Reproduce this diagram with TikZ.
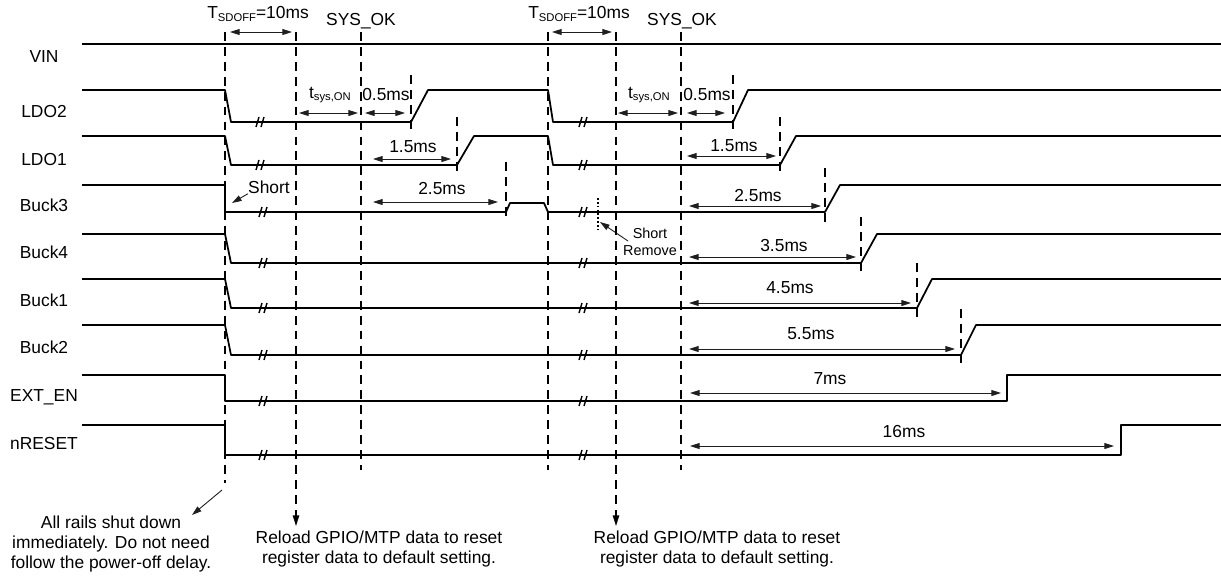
\documentclass[tikz,border=0pt]{standalone}
\usepackage{fontspec}
\setmainfont{Liberation Sans}
\usetikzlibrary{arrows.meta}
\definecolor{tdline}{RGB}{0,0,0}
\definecolor{tddim}{RGB}{30,30,30}
\newcommand{\tdsub}[1]{\raisebox{-0.3ex}{\fontsize{6.4}{7}\selectfont #1}}

\begin{document}
\begin{tikzpicture}[x=0.02cm, y=-0.02cm,
  sig/.style={tdline, line width=1pt, line join=round},
  guide/.style={tdline, line width=0.9pt, dash pattern=on 5pt off 3.5pt},
  dotguide/.style={tdline, line width=0.6pt, dash pattern=on 1pt off 1.2pt},
  dimarrow/.style={tddim, line width=0.5pt, {Triangle[length=5.5pt,width=3.4pt]}-{Triangle[length=5.5pt,width=3.4pt]}},
  notearrow/.style={tddim, line width=0.5pt, -{Triangle[length=5.5pt,width=3.4pt]}},
  lbl/.style={font=\fontsize{9.9}{11.3}\selectfont, inner sep=0pt},
  smalllbl/.style={font=\fontsize{8.2}{9.8}\selectfont, inner sep=0pt},
  brk/.pic={\draw[tdline, line width=0.8pt] (-4,5) -- (-1,-5) (1,5) -- (4,-5);}]
\useasboundingbox (0,0) rectangle (1221,576);

% signal names
\node[lbl] (vin)    at (44,57)  {VIN};
\node[lbl] (ldo2)   at (44,112) {LDO2};
\node[lbl] (ldo1)   at (44,160) {LDO1};
\node[lbl] (buck3)  at (44,205) {Buck3};
\node[lbl] (buck4)  at (44,252) {Buck4};
\node[lbl] (buck1)  at (44,300) {Buck1};
\node[lbl] (buck2)  at (44,347) {Buck2};
\node[lbl] (exten)  at (44,397) {EXT\_EN};
\node[lbl] (nreset) at (44,444) {nRESET};

% time guides
\coordinate (gA) at (225,32);
\coordinate (gB) at (296,32);
\coordinate (gC) at (361,32);
\coordinate (gD) at (548,32);
\coordinate (gE) at (616,32);
\coordinate (gF) at (681,32);
\draw[guide] (gA) -- (225,483);
\draw[guide] (gC) -- (361,470);
\draw[guide] (gD) -- (548,470);
\draw[guide] (gF) -- (681,470);

% waveforms
\draw[sig] (82,44) -- (1221,44);
\draw[sig] (82,90) -- (225,90) -- (231,122) -- (411,122) -- (428,90) -- (548,90)
  -- (553,122) -- (733,122) -- (748,90) -- (1221,90);
\draw[sig] (82,136) -- (225,136) -- (231,165) -- (457,165) -- (474,136) -- (548,136)
  -- (553,165) -- (780,165) -- (796,136) -- (1221,136);
\draw[sig] (82,185) -- (225,185) -- (225,212) -- (506,212) -- (510,203) -- (544,203)
  -- (548,212) -- (825,212) -- (840,185) -- (1221,185);
\draw[sig] (82,234) -- (225,234) -- (231,263) -- (861,263) -- (877,234) -- (1221,234);
\draw[sig] (82,279) -- (225,279) -- (231,308) -- (917,308) -- (932,279) -- (1221,279);
\draw[sig] (82,325) -- (225,325) -- (231,355) -- (961,355) -- (976,325) -- (1221,325);
\draw[sig] (82,375) -- (225,375) -- (225,401) -- (1007,401) -- (1007,375) -- (1221,375);
\draw[sig] (82,425) -- (225,425) -- (225,455) -- (1121,455) -- (1121,425) -- (1221,425);

% break marks
\pic at (260,122) {brk};  \pic at (583,122) {brk};
\pic at (260,165) {brk};  \pic at (583,165) {brk};
\pic at (263,212) {brk};  \pic at (583,212) {brk};
\pic at (263,263) {brk};  \pic at (583,263) {brk};
\pic at (263,308) {brk};  \pic at (583,308) {brk};
\pic at (263,355) {brk};  \pic at (583,355) {brk};
\pic at (263,401) {brk};  \pic at (583,401) {brk};
\pic at (263,455) {brk};  \pic at (583,455) {brk};

% rise markers
\draw[guide] (411,75) -- (411,130);
\draw[guide] (733,75) -- (733,130);
\draw[guide] (457,117) -- (457,173);
\draw[guide] (780,117) -- (780,173);
\draw[guide] (506,162) -- (506,216);
\draw[guide] (825,168) -- (825,223);
\draw[guide] (861,217) -- (861,272);
\draw[guide] (917,263) -- (917,317);
\draw[guide] (961,309) -- (961,363);

% top labels
\node[lbl] (tsd1) at (258,14) {T\tdsub{SDOFF}=10ms};
\node[lbl] (tsd2) at (579,14) {T\tdsub{SDOFF}=10ms};
\node[lbl] (ok1)  at (361,21) {SYS\_OK};
\node[lbl] (ok2)  at (682,21) {SYS\_OK};
\draw[dimarrow] (230,32) -- (292,32);
\draw[dimarrow] (552,32) -- (612,32);

% first restart
\node[lbl] (ton1) at (330,95) {t\tdsub{sys,ON}};
\draw[dimarrow] (299,113) -- (358,113);
\node[lbl] (d05a) at (386,95) {0.5ms};
\draw[dimarrow] (365,113) -- (405,113);
\node[lbl] (d15a) at (413,147) {1.5ms};
\draw[dimarrow] (373,159) -- (451,159);
\node[lbl] (d25a) at (442,189) {2.5ms};
\draw[dimarrow] (373,202) -- (498,202);

% short on Buck3
\node[lbl] (short1) at (269,187) {Short};
\coordinate (shortTip) at (232,203);
\draw[notearrow] (short1.south west) -- (shortTip);

% second restart
\node[lbl] (ton2) at (649,95) {t\tdsub{sys,ON}};
\draw[dimarrow] (618,113) -- (678,113);
\node[lbl] (d05b) at (707,95) {0.5ms};
\draw[dimarrow] (687,113) -- (725,113);
\node[lbl] (d15b) at (734,146) {1.5ms};
\draw[dimarrow] (687,156) -- (776,156);
\node[lbl] (d25b) at (758,196) {2.5ms};
\draw[dimarrow] (689,206) -- (821,206);
\node[lbl] (d35) at (784,246) {3.5ms};
\draw[dimarrow] (689,257) -- (856,257);
\node[lbl] (d45) at (790,288) {4.5ms};
\draw[dimarrow] (689,303) -- (911,303);
\node[lbl] (d55) at (811,334) {5.5ms};
\draw[dimarrow] (689,349) -- (955,349);
\node[lbl] (d7) at (830,379) {7ms};
\draw[dimarrow] (690,393) -- (1001,393);
\node[lbl] (d16) at (904,432) {16ms};
\draw[dimarrow] (690,446) -- (1114,446);

% short removed
\draw[dotguide] (598,198) -- (598,229);
\node[smalllbl, align=center] (shortrm) at (650,242) {Short\\Remove};
\coordinate (rmTip) at (600,222);
\draw[notearrow] (628,241) -- (rmTip);

% notes
\node[lbl, align=center] (rails) at (111,544)
  {All rails shut down\\immediately. Do not need\\follow the power-off delay.};
\node[lbl, align=center] (reload1) at (379,549)
  {Reload GPIO/MTP data to reset\\register data to default setting.};
\node[lbl, align=center] (reload2) at (717,549)
  {Reload GPIO/MTP data to reset\\register data to default setting.};
\coordinate (railsTip) at (192,515);
\draw[notearrow] (222,490) -- (railsTip);
\draw[guide, -{Triangle[length=6pt,width=3.6pt]}] (gB) -- (296,526);
\draw[guide, -{Triangle[length=6pt,width=3.6pt]}] (gE) -- (616,526);
\end{tikzpicture}
\end{document}
